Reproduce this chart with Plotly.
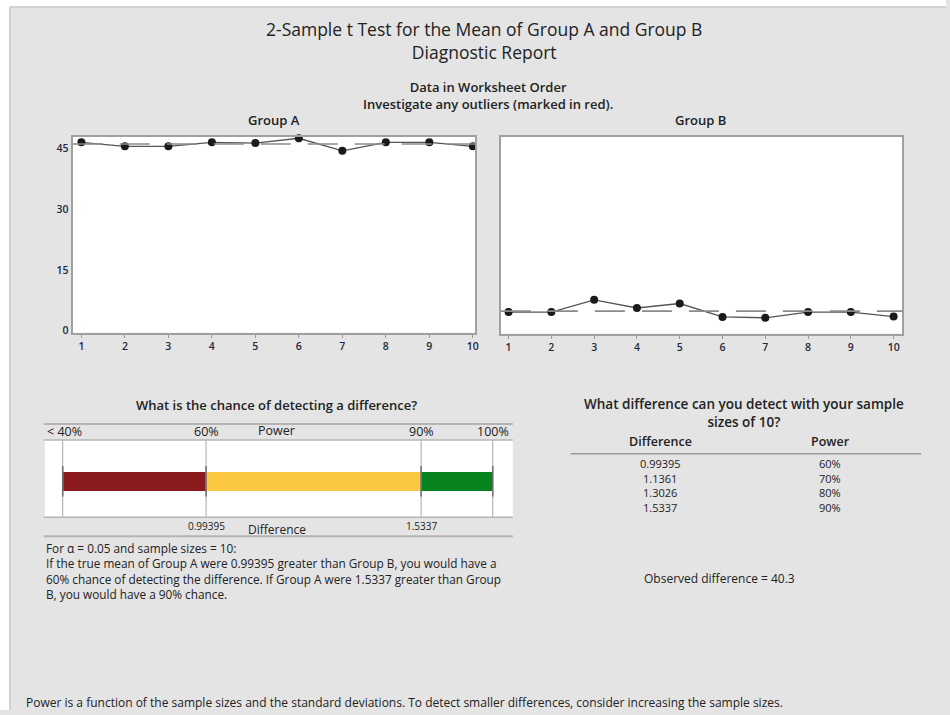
import plotly.graph_objects as go

# ---------------- data ----------------
observations = list(range(1, 11))
group_a = [46.5, 45.5, 45.5, 46.5, 46.3, 47.5, 44.4, 46.5, 46.5, 45.5]
group_b = [4.8, 4.8, 7.8, 5.8, 6.9, 3.6, 3.4, 4.8, 4.8, 3.7]
y_ticks = [0, 15, 30, 45]

power_breaks = [40, 60, 90, 100]
power_labels = ["< 40%", "60%", "90%", "100%"]
power_colors = ["#8c1b1d", "#fcc741", "#06821f"]
diff_labels = {60: "0.99395", 90: "1.5337"}

table_diff = ["0.99395", "1.1361", "1.3026", "1.5337"]
table_power = ["60%", "70%", "80%", "90%"]
observed_diff = "40.3"

W, H = 950, 715
FONT = "Open Sans"
TXT = "#222222"


def px(x, y):
    return x / W, 1 - y / H


fig = go.Figure()

# ---------------- worksheet order charts ----------------
for vals, xa, ya in [(group_a, "x", "y"), (group_b, "x2", "y2")]:
    fig.add_trace(go.Scatter(
        x=observations, y=vals, mode="lines+markers", xaxis=xa, yaxis=ya,
        line=dict(color="#555555", width=1.3),
        marker=dict(color="#1a1a1a", size=8, symbol="circle"),
        cliponaxis=False, showlegend=False, hoverinfo="x+y"))
    mean = sum(vals) / len(vals)
    fig.add_shape(type="line", xref=f"{xa} domain", yref=ya, x0=0, x1=1,
                  y0=mean, y1=mean, line=dict(color="#8a8a8a", width=1.6, dash="30px,17px"))

# ---------------- power bar ----------------
for lo, hi, col in zip(power_breaks[:-1], power_breaks[1:], power_colors):
    fig.add_trace(go.Bar(
        x=[hi - lo], base=[lo], y=[0], orientation="h", width=1.0,
        marker=dict(color=col, line=dict(width=0)),
        xaxis="x3", yaxis="y3", showlegend=False, hoverinfo="skip"))

for b in power_breaks:
    fig.add_shape(type="line", xref="x3", yref="y3 domain", x0=b, x1=b, y0=0, y1=1,
                  line=dict(color="#a8a8a8", width=1))
    fig.add_shape(type="line", xref="x3", yref="y3", x0=b, x1=b, y0=-0.83, y1=0.83,
                  line=dict(color="#6e6e6e", width=1.5))

axis_common = dict(showgrid=False, zeroline=False)
box = dict(showline=True, mirror=True, linecolor="#a0a0a0", linewidth=2)
tickf = dict(size=10.5, color="#1e2a40", weight=600)
fig.update_layout(
    width=W, height=H,
    margin=dict(l=0, r=0, t=0, b=0),
    paper_bgcolor="#e4e4e4", plot_bgcolor="#ffffff",
    font=dict(family=FONT, color=TXT, size=10),
    bargap=0, barmode="overlay",
    xaxis=dict(domain=[73 / W, 477 / W], range=[0.8, 10.05], tickvals=observations,
               anchor="y", ticks="outside", ticklen=3, tickcolor="#999",
               tickfont=tickf, **box, **axis_common),
    yaxis=dict(domain=[1 - 335 / H, 1 - 138 / H], range=[-0.5, 47.8], tickvals=y_ticks,
               anchor="x", ticks="", tickfont=tickf, **box, **axis_common),
    xaxis2=dict(domain=[503 / W, 906 / W], range=[0.82, 10.2], tickvals=observations,
                anchor="y2", ticks="outside", ticklen=3, tickcolor="#999",
                tickfont=tickf, **box, **axis_common),
    yaxis2=dict(domain=[1 - 336 / H, 1 - 138 / H], range=[-0.5, 47.8], showticklabels=False,
                anchor="x2", ticks="", **box, **axis_common),
    xaxis3=dict(domain=[45 / W, 515 / W], range=[37.5, 102.8], showticklabels=False,
                anchor="y3", ticks="", showline=False, **axis_common),
    yaxis3=dict(domain=[1 - 521 / H, 1 - 443 / H], range=[-1.96, 2.24], showticklabels=False,
                anchor="x3", ticks="", showline=False, **axis_common),
)

# background frame: white strip on top/left
fig.add_shape(type="rect", xref="paper", yref="paper", x0=0, x1=10 / W, y0=0, y1=1,
              fillcolor="#ffffff", line=dict(width=0), layer="below")
fig.add_shape(type="rect", xref="paper", yref="paper", x0=0, x1=1, y0=1 - 7 / H, y1=1,
              fillcolor="#ffffff", line=dict(width=0), layer="below")
fig.add_shape(type="line", xref="paper", yref="paper", x0=10 / W, x1=10 / W, y0=0, y1=1 - 7 / H,
              line=dict(color="#d2d2d2", width=2))
fig.add_shape(type="line", xref="paper", yref="paper", x0=10 / W, x1=1, y0=1 - 7 / H, y1=1 - 7 / H,
              line=dict(color="#d2d2d2", width=2))

# header / footer bands of the power bar
for yy, w in [(427, 2), (443, 1.5), (521, 1.5), (540, 2)]:
    x0, y0 = px(44, yy)
    x1, _ = px(515, yy)
    fig.add_shape(type="line", xref="paper", yref="paper", x0=x0, x1=x1, y0=y0, y1=y0,
                  line=dict(color="#b4b4b4", width=w))

# table separator line
x0, y0 = px(573, 457)
x1, _ = px(925, 457)
fig.add_shape(type="line", xref="paper", yref="paper", x0=x0, x1=x1, y0=y0, y1=y0,
              line=dict(color="#9a9a9a", width=1.5))


def text(s, x, y, size=12, anchor="center", weight="normal", color=TXT, yanchor="middle"):
    ax, ay = px(x, y)
    fig.add_annotation(text=s, x=ax, y=ay, xref="paper", yref="paper", showarrow=False,
                       xanchor=anchor, yanchor=yanchor, align=anchor if anchor != "center" else "center",
                       font=dict(size=size, family=FONT, color=color, weight=weight))


# titles
text("2-Sample t Test for the Mean of Group A and Group B<br>Diagnostic Report", 486, 41, size=17.5)
text("Data in Worksheet Order<br>Investigate any outliers (marked in red).", 490, 96,
     size=13, weight=600)
text("Group A", 275, 121, size=13, weight=600)
text("Group B", 703, 121, size=13, weight=600)

# power section
text("What is the chance of detecting a difference?", 278, 408, size=13, weight=600)
text("Power", 278, 434, size=12.5)
text("Difference", 278, 533, size=12)
for b, lab in zip(power_breaks, power_labels):
    if b == power_breaks[0]:
        text(lab, 45, 435, size=12.5, anchor="left")
    else:
        fig.add_annotation(text=lab, x=b, xref="x3", y=px(0, 435)[1], yref="paper",
                           showarrow=False, xanchor="center", yanchor="middle",
                           font=dict(size=12.5, family=FONT, color=TXT))
for b, lab in diff_labels.items():
    fig.add_annotation(text=lab, x=b, xref="x3", y=px(0, 530)[1], yref="paper",
                       showarrow=False, xanchor="center", yanchor="middle",
                       font=dict(size=10, family=FONT, color=TXT))

para = [
    "For α = 0.05 and sample sizes = 10:",
    "If the true mean of Group A were 0.99395 greater than Group B, you would have a",
    "60% chance of detecting the difference. If Group A were 1.5337 greater than Group",
    "B, you would have a 90% chance.",
]
text("<br>".join(para), 44, 542, size=11.8, anchor="left", yanchor="top")

# difference table
text("What difference can you detect with your sample<br>sizes of 10?", 747, 416,
     size=13.5, weight=600)
text("Difference", 663, 445, size=12.5, weight=600)
text("Power", 834, 445, size=12.5, weight=600)
for i, (d, p) in enumerate(zip(table_diff, table_power)):
    yy = 467 + 14.6 * i
    text(d, 663, yy, size=11)
    text(p, 834, yy, size=11)
text(f"Observed difference = {observed_diff}", 723, 583, size=12)

# footer
text("Power is a function of the sample sizes and the standard deviations. "
     "To detect smaller differences, consider increasing the sample sizes.",
     24, 707, size=12, anchor="left")

fig.write_html(
    "out.html",
    config={"displayModeBar": False},
    post_script="document.body.style.margin='0px';document.body.style.overflow='hidden';",
)
